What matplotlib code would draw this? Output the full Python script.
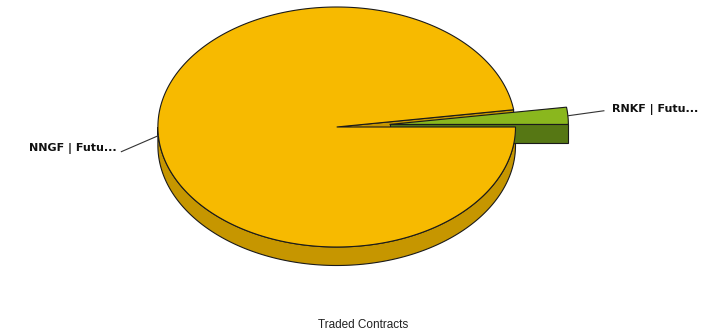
import numpy as np
import matplotlib
matplotlib.use("Agg")
import matplotlib.pyplot as plt
from matplotlib.patches import Polygon

# ---- data ----
labels = ["RNKF | Futu...", "NNGF | Futu..."]
values = [2.3, 97.7]
title = "Traded Contracts"

# ---- style ----
explode_px = [53, 0]
top_colors = ["#8AB71E", "#F7BA00"]
side_colors = ["#567714", "#C69600"]

W, H = 718, 334
fig = plt.figure(figsize=(W / 100, H / 100), dpi=100)
ax = fig.add_axes([0, 0, 1, 1])
ax.set_xlim(0, W)
ax.set_ylim(H, 0)
ax.axis("off")

cx, cy, rx, ry, depth = 336.7, 127.0, 178.8, 120.0, 18.5
EC = "#1a1a1a"
LW = 0.8

fr = np.array(values, dtype=float) / np.sum(values)
bounds = np.concatenate([[0], np.cumsum(fr)]) * 2 * np.pi


def rim(t, ox, oy, dz=0.0):
    t = np.atleast_1d(t)
    return np.column_stack([cx + ox + rx * np.cos(t), cy + oy - ry * np.sin(t) + dz])


slices = []
for i in range(len(values)):
    a0, a1 = bounds[i], bounds[i + 1]
    mid = 0.5 * (a0 + a1)
    ox = explode_px[i] * np.cos(mid)
    oy = -explode_px[i] * np.sin(mid) * ry / rx
    slices.append((a0, a1, mid, ox, oy))


def outer_wall(i, z):
    a0, a1, mid, ox, oy = slices[i]
    lo, hi = max(a0, np.pi), min(a1, 2 * np.pi)
    if hi <= lo:
        return
    t = np.linspace(lo, hi, 200)
    top = rim(t, ox, oy)
    bot = rim(t[::-1], ox, oy, depth)
    ax.add_patch(Polygon(np.vstack([top, bot]), closed=True, fc=side_colors[i],
                         ec=EC, lw=LW, zorder=z))


def radial_face(i, ang, z):
    a0, a1, mid, ox, oy = slices[i]
    c = np.array([cx + ox, cy + oy])
    r = rim(ang, ox, oy)[0]
    pts = [c, r, r + [0, depth], c + [0, depth]]
    ax.add_patch(Polygon(pts, closed=True, fc=side_colors[i], ec=EC, lw=LW,
                         zorder=z))


def top(i, z):
    a0, a1, mid, ox, oy = slices[i]
    t = np.linspace(a0, a1, 400)
    pts = np.vstack([[cx + ox, cy + oy], rim(t, ox, oy)])
    ax.add_patch(Polygon(pts, closed=True, fc=top_colors[i], ec=EC, lw=LW,
                         zorder=z))


# big slice walls
outer_wall(1, 1)
radial_face(1, slices[1][0], 2)
# small slice (behind)
radial_face(0, slices[0][0], 3)
top(0, 4)
# big slice top
top(1, 5)

# labels with leader lines
for i in range(len(values)):
    a0, a1, mid, ox, oy = slices[i]
    p = rim(mid, ox, oy)[0]
    if np.cos(mid) >= 0:
        q = p + [36, -5]
        ax.plot([p[0], q[0]], [p[1], q[1]], color="#333333", lw=0.8, zorder=6)
        ax.text(q[0] + 8, q[1] - 1, labels[i], ha="left", va="center",
                fontsize=8, fontweight="bold", color="#111111",
                family="DejaVu Sans")
    else:
        q = p + [-37, 16]
        ax.plot([p[0], q[0]], [p[1], q[1]], color="#333333", lw=0.8, zorder=6)
        ax.text(q[0] - 5, q[1] - 3, labels[i], ha="right", va="center",
                fontsize=8, fontweight="bold", color="#111111",
                family="DejaVu Sans")

ax.text(363, 324.5, title, ha="center", va="center", fontsize=8.5,
        family="Liberation Sans", color="#222222")

fig.savefig("out.png", dpi=100)
